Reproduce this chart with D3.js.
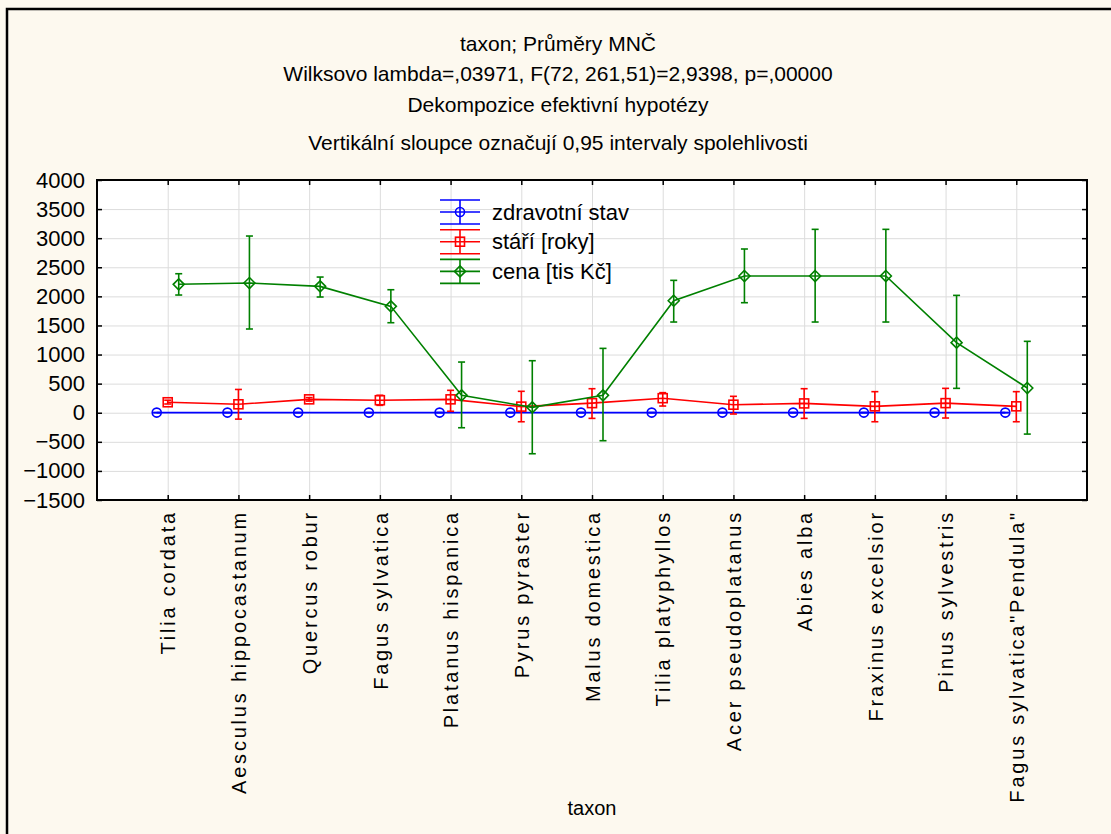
<!DOCTYPE html>
<html>
<head>
<meta charset="utf-8">
<script src="https://cdn.jsdelivr.net/npm/d3@7"></script>
<style>
  html, body { margin: 0; padding: 0; background: #fdf9ef; }
  svg { display: block; font-family: Arial, "Liberation Sans", sans-serif; }
  .grid line { stroke: #dcdcdc; stroke-width: 1; }
  .grid path { display: none; }
  .axis path { display: none; }
  .axis line { stroke: #000; stroke-width: 1.5; }
</style>
</head>
<body>
<div id="chart"></div>
<script>
// kategorie (taxon)
const categories = [
  "Tilia cordata", "Aesculus hippocastanum", "Quercus robur", "Fagus sylvatica",
  "Platanus hispanica", "Pyrus pyraster", "Malus domestica", "Tilia platyphyllos",
  "Acer pseudoplatanus", "Abies alba", "Fraxinus excelsior", "Pinus sylvestris",
  "Fagus sylvatica\"Pendula\""
];

// zdravotní stav
const zdravMean = [2.1, 2.2, 1.9, 2.0, 2.4, 2.3, 2.6, 2.0, 2.2, 1.9, 2.1, 2.3, 2.0];
const zdravLo   = [1.8, 1.6, 1.6, 1.7, 1.9, 1.5, 1.8, 1.6, 1.7, 1.3, 1.4, 1.6, 1.3];
const zdravHi   = [2.4, 2.8, 2.2, 2.3, 2.9, 3.1, 3.4, 2.4, 2.7, 2.5, 2.8, 3.0, 2.7];

// stáří [roky]
const stariMean = [180, 145, 230, 215, 230, 105, 165, 250, 138, 160, 110, 165, 110];
const stariLo   = [150, -110, 200, 127, 25, -155, -97, 115, -22, -97, -155, -91, -155];
const stariHi   = [215, 400, 260, 300, 385, 368, 413, 345, 282, 413, 362, 419, 362];

// cena [tis Kč]
const cenaMean = [2207, 2229, 2172, 1828, 299, 93, 299, 1925, 2350, 2350, 2350, 1204, 425];
const cenaLo   = [2023, 1439, 1989, 1547, -258, -705, -481, 1559, 1891, 1559, 1559, 419, -367];
const cenaHi   = [2389, 3037, 2332, 2114, 871, 894, 1106, 2275, 2814, 3152, 3152, 2017, 1227];

const yTicks = [4000, 3500, 3000, 2500, 2000, 1500, 1000, 500, 0, -500, -1000, -1500];

const titleLines = [
  "taxon; Průměry MNČ",
  "Wilksovo lambda=,03971, F(72, 261,51)=2,9398, p=,00000",
  "Dekompozice efektivní hypotézy",
  "Vertikální sloupce označují 0,95 intervaly spolehlivosti"
];

const series = [
  { name: "zdravotní stav", color: "#0000ff", shape: "circle",  dx: -11, mean: zdravMean, lo: zdravLo, hi: zdravHi },
  { name: "stáří [roky]",   color: "#ff0000", shape: "square",  dx: 0,   mean: stariMean, lo: stariLo, hi: stariHi },
  { name: "cena [tis Kč]",  color: "#008000", shape: "diamond", dx: 11,  mean: cenaMean,  lo: cenaLo,  hi: cenaHi }
];

const W = 1111, H = 834;
const plot = { left: 97, top: 180, right: 1087, bottom: 500 };

const svg = d3.select("#chart").append("svg")
  .attr("width", W).attr("height", H);

svg.append("rect").attr("width", W).attr("height", H).attr("fill", "#fdf9ef");
// rámeček
svg.append("rect")
  .attr("x", 7).attr("y", 9).attr("width", W + 10).attr("height", H + 10)
  .attr("fill", "none").attr("stroke", "#000").attr("stroke-width", 2.5);

// nadpis
const titleY = [44, 74, 105, 143];
svg.selectAll(".title").data(titleLines).enter().append("text")
  .attr("x", 558).attr("y", (d, i) => titleY[i]).attr("dy", "0.35em")
  .attr("text-anchor", "middle").attr("font-size", "21px").attr("fill", "#000")
  .text(d => d);

const x = d3.scalePoint().domain(categories).range([plot.left, plot.right]).padding(1);
const y = d3.scaleLinear().domain([-1500, 4000]).range([plot.bottom, plot.top]);

svg.append("rect")
  .attr("x", plot.left).attr("y", plot.top)
  .attr("width", plot.right - plot.left).attr("height", plot.bottom - plot.top)
  .attr("fill", "#fff");

// mřížka
svg.append("g").attr("class", "grid")
  .attr("transform", `translate(${plot.left},0)`)
  .call(d3.axisLeft(y).tickValues(yTicks).tickSize(-(plot.right - plot.left)).tickFormat(""));
svg.append("g").attr("class", "grid")
  .attr("transform", `translate(0,${plot.bottom})`)
  .call(d3.axisBottom(x).tickSize(-(plot.bottom - plot.top)).tickFormat(""));

// osy
svg.append("g").attr("class", "axis")
  .attr("transform", `translate(${plot.left},0)`)
  .call(d3.axisLeft(y).tickValues(yTicks).tickSizeInner(-5).tickSizeOuter(0).tickPadding(12)
    .tickFormat(d3.format("d")))
  .selectAll("text").attr("font-size", "22px").attr("fill", "#000")
  .attr("font-family", "Arial, 'Liberation Sans', sans-serif");

svg.append("g").attr("class", "axis")
  .attr("transform", `translate(${plot.right},0)`)
  .call(d3.axisRight(y).tickValues(yTicks).tickSizeInner(-5).tickSizeOuter(0).tickFormat(""));

svg.append("g").attr("class", "axis")
  .attr("transform", `translate(0,${plot.top})`)
  .call(d3.axisTop(x).tickSizeInner(-5).tickSizeOuter(0).tickFormat(""));

const xAxisG = svg.append("g").attr("class", "axis")
  .attr("transform", `translate(0,${plot.bottom})`)
  .call(d3.axisBottom(x).tickSizeInner(-5).tickSizeOuter(0));
xAxisG.selectAll("text")
  .attr("transform", "rotate(-90)")
  .attr("x", -10).attr("y", 0).attr("dy", "0.36em")
  .attr("text-anchor", "end")
  .attr("font-size", "20px").attr("letter-spacing", "2.8px").attr("fill", "#000")
  .attr("font-family", "Arial, 'Liberation Sans', sans-serif");

svg.append("rect")
  .attr("x", plot.left).attr("y", plot.top)
  .attr("width", plot.right - plot.left).attr("height", plot.bottom - plot.top)
  .attr("fill", "none").attr("stroke", "#000").attr("stroke-width", 2);

svg.append("text")
  .attr("x", 592).attr("y", 808).attr("dy", "0.35em")
  .attr("text-anchor", "middle").attr("font-size", "20px").text("taxon");

// značky
function marker(g, shape, color, cx, cy) {
  if (shape === "circle") {
    g.append("circle").attr("cx", cx).attr("cy", cy).attr("r", 4.5)
      .attr("fill", "none").attr("stroke", color).attr("stroke-width", 1.6);
  } else if (shape === "square") {
    g.append("rect").attr("x", cx - 4.5).attr("y", cy - 4.5).attr("width", 9).attr("height", 9)
      .attr("fill", "none").attr("stroke", color).attr("stroke-width", 1.6);
  } else {
    g.append("path")
      .attr("d", `M${cx},${cy - 5.5}L${cx + 5.5},${cy}L${cx},${cy + 5.5}L${cx - 5.5},${cy}Z`)
      .attr("fill", "none").attr("stroke", color).attr("stroke-width", 1.6);
  }
}

series.forEach(s => {
  const g = svg.append("g");
  const px = i => x(categories[i]) + s.dx;
  const pts = s.mean.map((v, i) => [px(i), y(v)]);
  g.append("path").attr("d", d3.line()(pts))
    .attr("fill", "none").attr("stroke", s.color).attr("stroke-width", 1.6);
  s.mean.forEach((v, i) => {
    const cx = px(i);
    g.append("line").attr("x1", cx).attr("x2", cx).attr("y1", y(s.lo[i])).attr("y2", y(s.hi[i]))
      .attr("stroke", s.color).attr("stroke-width", 1.6);
    [s.lo[i], s.hi[i]].forEach(e => {
      g.append("line").attr("x1", cx - 3.5).attr("x2", cx + 3.5).attr("y1", y(e)).attr("y2", y(e))
        .attr("stroke", s.color).attr("stroke-width", 1.6);
    });
    marker(g, s.shape, s.color, cx, y(v));
  });
});

// legenda
const legX = 460, legY0 = 212, legStep = 29.7;
series.forEach((s, i) => {
  const g = svg.append("g");
  const cy = legY0 + i * legStep;
  [-12, 0, 12].forEach(o => {
    g.append("line").attr("x1", legX - 20).attr("x2", legX + 20).attr("y1", cy + o).attr("y2", cy + o)
      .attr("stroke", s.color).attr("stroke-width", 1.6);
  });
  g.append("line").attr("x1", legX).attr("x2", legX).attr("y1", cy - 12).attr("y2", cy + 12)
    .attr("stroke", s.color).attr("stroke-width", 1.6);
  marker(g, s.shape, s.color, legX, cy);
  g.append("text").attr("x", 492).attr("y", cy).attr("dy", "0.35em")
    .attr("font-size", "22px").attr("fill", "#000").text(s.name);
});
</script>
</body>
</html>
